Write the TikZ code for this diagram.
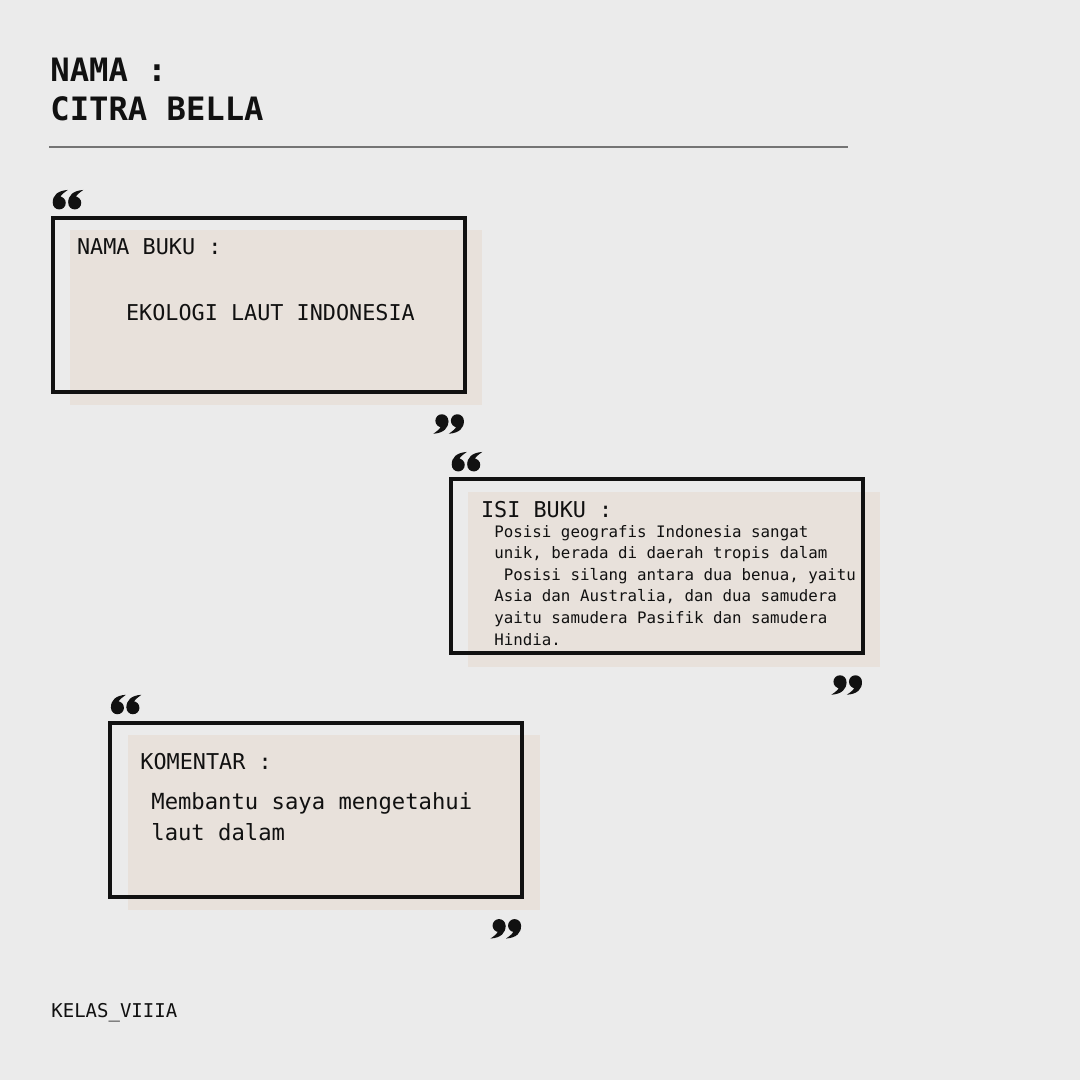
\documentclass[tikz,border=0pt]{standalone}
\usepackage{fontspec}
\usepackage{xcolor}
\newfontfamily\monofont{DejaVu Sans Mono}
\definecolor{paper}{HTML}{EBEBEB}
\definecolor{sand}{HTML}{E8E1DB}
\definecolor{rulegray}{HTML}{747474}
\definecolor{ink}{HTML}{111111}

\begin{document}
\begin{tikzpicture}[x=0.5pt, y=-0.5pt,
    frame/.style = {draw=ink, line width=2pt},
    patch/.style = {fill=sand},
    title/.style = {anchor=base west, inner sep=0, text=ink,
        font=\monofont\bfseries\fontsize{16.1}{19}\selectfont},
    heading/.style = {anchor=base west, inner sep=0, text=ink,
        font=\monofont\fontsize{10.9}{13}\selectfont},
    body/.style = {anchor=base west, inner sep=0, text=ink,
        font=\monofont\fontsize{7.9}{10}\selectfont},
    qpair/.pic = {
        \foreach \dx in {-8.75,6.75} {
            \fill[ink] (\dx,3.25) circle (6.5);
            \fill[ink] (\dx-6.5,3.25) .. controls (\dx-6.8,-4) and (\dx-2,-9) .. (\dx+8.5,-9.75)
                .. controls (\dx+4,-6.5) and (\dx+1.5,-4.5) .. (\dx+1.5,-3) -- cycle;
        }
    }]

% Page
\useasboundingbox (0,0) rectangle (1080,1080);
\fill[paper] (0,0) rectangle (1080,1080);

% Title
\node[title] (nama) at (50,82) {NAMA :};
\node[title] (citra) at (50,120.5) {CITRA BELLA};
\coordinate (ruleL) at (49,147);
\coordinate (ruleR) at (848,147);
\draw[rulegray, line width=1pt] (ruleL) -- (ruleR);

% Box 1
\fill[patch] (70,230) rectangle (481.5,405);
\draw[frame] (52.7,218) rectangle (464.7,392);
\pic (open1) at (68,199.7) {qpair};
\pic[rotate=180] (close1) at (448.6,424) {qpair};
\node[heading] (bukuhead) at (76.7,255) {NAMA BUKU :};
\node[heading] (bukutitle) at (125.7,320.7) {EKOLOGI LAUT INDONESIA};

% Box 2
\fill[patch] (468.3,491.7) rectangle (880,666.7);
\draw[frame] (451.3,478.7) rectangle (862.8,653);
\pic (open2) at (467,461.7) {qpair};
\pic[rotate=180] (close2) at (846.7,685) {qpair};
\node[heading] (isihead) at (480.7,517.3) {ISI BUKU :};
\foreach \txt [count=\i from 0] in {{Posisi geografis Indonesia sangat},
    {unik, berada di daerah tropis dalam},
    {\ Posisi silang antara dua benua, yaitu},
    {Asia dan Australia, dan dua samudera},
    {yaitu samudera Pasifik dan samudera},
    {Hindia.}}
    \node[body] (isi-\i) at (494,537+21.6*\i) {\txt};

% Box 3
\fill[patch] (127.7,735) rectangle (540,910);
\draw[frame] (110.3,722.7) rectangle (522,897);
\pic (open3) at (126.2,704.5) {qpair};
\pic[rotate=180] (close3) at (505.8,928.8) {qpair};
\node[heading] (komhead) at (140,769.3) {KOMENTAR :};
\node[heading, font=\monofont\fontsize{11.1}{13}\selectfont] (kom1) at (151,809.3) {Membantu saya mengetahui};
\node[heading, font=\monofont\fontsize{11.1}{13}\selectfont] (kom2) at (151,840) {laut dalam};

% Footer
\node[heading, font=\monofont\fontsize{9.5}{12}\selectfont] (kelas) at (51,1017.3) {KELAS\_VIIIA};
\end{tikzpicture}
\end{document}
